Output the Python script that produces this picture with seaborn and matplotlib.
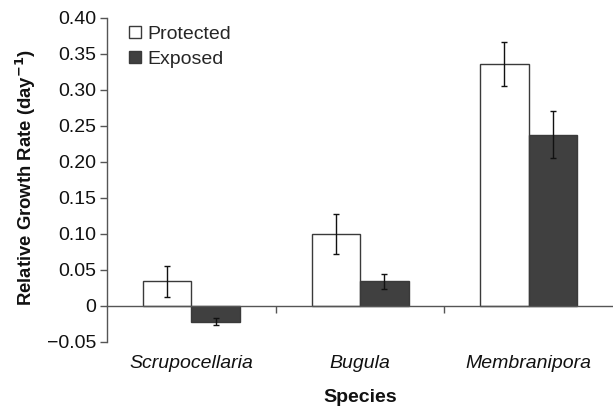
import matplotlib
matplotlib.use("Agg")
import matplotlib.pyplot as plt
import matplotlib.ticker as mticker
import seaborn as sns
import pandas as pd
import numpy as np

species = ["Scrupocellaria", "Bugula", "Membranipora"]
treatments = ["Protected", "Exposed"]
protected_vals = [0.034, 0.100, 0.336]
exposed_vals = [-0.022, 0.034, 0.238]
protected_err = [0.022, 0.028, 0.030]
exposed_err = [0.005, 0.010, 0.033]
yticks = [-0.05, 0.0, 0.05, 0.10, 0.15, 0.20, 0.25, 0.30, 0.35, 0.40]

sns.set_theme(style="white")
plt.rcParams['font.family'] = ['Liberation Sans', 'DejaVu Sans']

df = pd.DataFrame({
    "Species": species * 2,
    "Treatment": ["Protected"] * 3 + ["Exposed"] * 3,
    "Rate": protected_vals + exposed_vals,
    "Err": protected_err + exposed_err,
})

fig = plt.figure(figsize=(6.13, 4.09), dpi=100)
ax = fig.add_axes([0.1746, 0.164, 0.8254, 0.792])

sns.barplot(data=df, x="Species", y="Rate", hue="Treatment",
            hue_order=treatments, order=species,
            palette={"Protected": "white", "Exposed": "#404040"},
            width=0.575, edgecolor="#3a3a3a", linewidth=1.0,
            errorbar=None, ax=ax)

# error bars from bar patches
bars = [p for p in ax.patches if p.get_width() > 0][:6]
errs = protected_err + exposed_err
vals = protected_vals + exposed_vals
for p, v, e in zip(bars, vals, errs):
    xc = p.get_x() + p.get_width() / 2
    ax.errorbar(xc, v, yerr=e, fmt='none', ecolor='#111111',
                elinewidth=1.0, capsize=2.5, capthick=1.0, zorder=5)

ax.set_xlim(-0.5, 2.5)
ax.set_ylim(-0.05, 0.40)
ax.set_yticks(yticks)
ax.yaxis.set_major_formatter(mticker.FuncFormatter(
    lambda v, pos: "0" if abs(v) < 1e-9 else f"{v:.2f}".replace("-", "\u2212")))

for s in ["top", "right"]:
    ax.spines[s].set_visible(False)
ax.spines["bottom"].set_position(("data", 0))
ax.spines["bottom"].set_color("#555555")
ax.spines["left"].set_color("#555555")
ax.spines["bottom"].set_linewidth(1.0)
ax.spines["left"].set_linewidth(1.0)

ax.tick_params(axis="y", which="major", direction="out", length=5,
               width=1.0, color="#555555", labelsize=14, pad=3, left=True,
               labelcolor="#111111")
ax.tick_params(axis="x", which="major", length=0, pad=35, labelsize=14,
               labelcolor="#111111")
ax.set_xticks([0.5, 1.5], minor=True)
ax.tick_params(axis="x", which="minor", direction="out", length=5,
               width=1.0, color="#555555", bottom=True)
for lab in ax.get_xticklabels():
    lab.set_fontstyle("italic")

ax.set_xlabel("Species", fontsize=14, fontweight="bold", color="#111111")
ax.set_ylabel("Relative Growth Rate (day$^{\\mathbf{-1}}$)", fontsize=13.3,
              fontweight="bold", color="#111111")
ax.xaxis.set_label_coords(0.5, -0.145)
ax.yaxis.set_label_coords(-0.136, 0.508)

leg = ax.legend(loc="upper left", bbox_to_anchor=(0.029, 1.0), frameon=False,
                fontsize=14, handlelength=0.6, handleheight=0.6,
                handletextpad=0.3, labelspacing=0.4, borderaxespad=0)

fig.savefig("out.png", dpi=100)
